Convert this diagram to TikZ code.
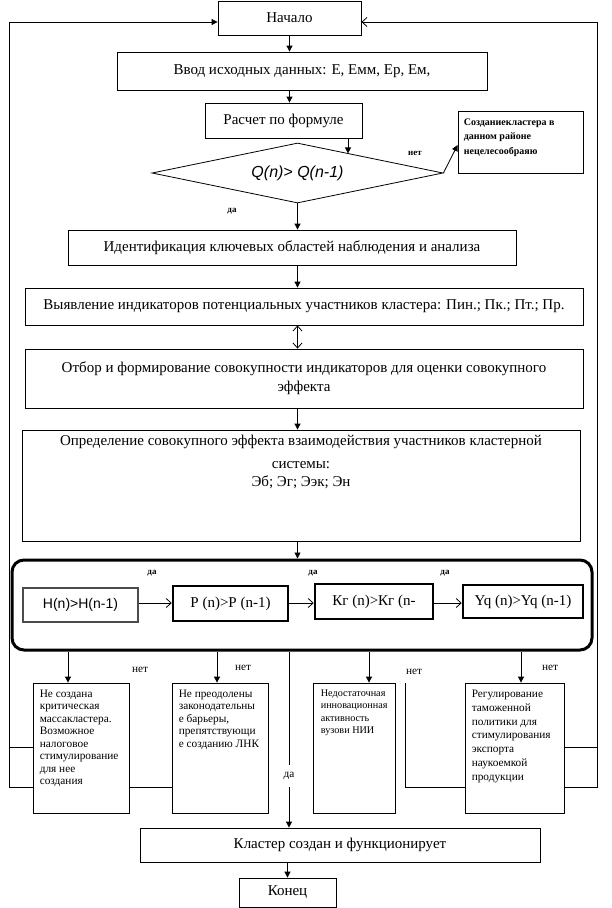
\documentclass[tikz,border=0pt]{standalone}
\usepackage{fontspec}
\setmainfont{Liberation Serif}
\setsansfont{Liberation Sans}
\usetikzlibrary{shapes.geometric,arrows.meta}

\newcommand{\txtmain}{\fontsize{15}{18}\selectfont}
\newcommand{\txtsmall}{\fontsize{11.3}{12.5}\selectfont}
\newcommand{\txttiny}{\fontsize{9}{12.5}\selectfont\bfseries}

\tikzset{
  blk/.style={draw, line width=0.8pt, inner sep=0pt, font=\txtmain},
  cond/.style={draw, line width=2.5pt, inner sep=0pt, font=\txtmain},
  note/.style={anchor=north west, inner sep=0pt, align=left, font=\txtsmall},
  lbl/.style={inner sep=0pt, font=\txttiny},
  nolbl/.style={inner sep=0pt, font=\txtsmall},
  flow/.style={line width=0.8pt, -{Triangle[length=6pt,width=6pt]}},
  barb/.style={line width=0.8pt, -{Straight Barb[length=5pt,width=9pt]}},
  link/.style={line width=0.8pt},
}

\begin{document}
\begin{tikzpicture}[x=1pt,y=-1pt]
\useasboundingbox (0,0) rectangle (612,908);

% top part
\node[blk, minimum width=143pt, minimum height=34pt] (start) at (289.5,18) {Начало};
\node[blk, minimum width=370pt, minimum height=38pt] (input) at (302,71) {Ввод  исходных данных: Е, Емм, Ер, Ем,};
\node[blk, minimum width=157pt, minimum height=35pt] (calc) at (283.5,120.5) {Расчет  по формуле};
\node[draw, diamond, aspect=4.85, line width=0.8pt, minimum width=291pt, minimum height=60pt, inner sep=0pt,
      font=\sffamily\itshape\fontsize{16}{18}\selectfont] (test) at (297.5,173) {Q(n)> Q(n-1)};
\node[blk, minimum width=125pt, minimum height=62pt] (nocl) at (520.5,142) {};
\node[note, font=\fontsize{10}{14.5}\selectfont\bfseries] at ([shift={(6,8)}]nocl.north west) {Созданиекластера в\\данном  районе\\нецелесообраяю};
\coordinate (tin) at (348,153.4);

\draw[flow] (start.south) -- (start.south |- input.north);
\draw[flow] (start.south |- input.south) -- (start.south |- calc.north);
\draw[flow] (calc.south -| tin) -- (tin);
\draw[flow] (test.east) -- ([yshift=-3pt]nocl.west);
\node[lbl] (no0) at (415,153) {нет};
\node[lbl] (yes0) at (232,211) {да};

% middle blocks
\node[blk, minimum width=448pt, minimum height=35pt] (ident) at (292,247.5) {Идентификация ключевых областей наблюдения и анализа};
\node[blk, minimum width=558pt, minimum height=37pt] (reveal) at (304,306.5) {Выявление индикаторов потенциальных  участников кластера: Пин.; Пк.; Пт.; Пр.};
\node[blk, minimum width=558pt, minimum height=59pt, align=center] (select) at (304,378.5) {Отбор и формирование совокупности индикаторов для оценки совокупного\\[1pt]эффекта};
\node[blk, minimum width=558pt, minimum height=111pt] (effect) at (301,485.5) {};
\node[font=\txtmain, align=center, anchor=north, inner sep=0pt] at ([yshift=-5pt]effect.north) {Определение совокупного эффекта  взаимодействия участников кластерной\\[5pt]системы:\\Эб; Эг; Ээк; Эн};

\draw[flow] (test.south) -- (test.south |- ident.north);
\draw[flow] (test.south |- ident.south) -- (test.south |- reveal.north);
\draw[line width=0.8pt, {Straight Barb[length=5pt,width=9pt]}-{Straight Barb[length=5pt,width=9pt]}]
  (test.south |- reveal.south) -- (test.south |- select.north);
\draw[flow] (test.south |- select.south) -- (test.south |- effect.north);

% chain of conditions
\node[draw, line width=3pt, rounded corners=12pt, minimum width=580pt, minimum height=90pt] (chain) at (302,605) {};
\node[cond, draw=black!70, font=\sffamily\fontsize{14}{16}\selectfont, minimum width=115pt, minimum height=34pt] (hc) at (80.5,605) {H(n)>H(n-1)};
\node[cond, minimum width=115pt, minimum height=35pt] (pc) at (230.5,603.5) {P (n)>P (n-1)};
\node[cond, minimum width=118pt, minimum height=35pt] (kc) at (374,601.5) {Кг  (n)>Кг (n-};
\node[cond, minimum width=120pt, minimum height=33pt] (yc) at (523,601.5) {Yq (n)>Yq (n-1)};
\draw[flow] (test.south |- effect.south) -- (test.south |- chain.north);
\draw[barb] (hc.east |- 0,603) -- (pc.west |- 0,603);
\draw[barb] (pc.east |- 0,603) -- (kc.west |- 0,603);
\draw[barb] (kc.east |- 0,603) -- (yc.west |- 0,603);
\node[lbl] (yes1) at (152,573) {да};
\node[lbl] (yes2) at (313,573) {да};
\node[lbl] (yes3) at (445,573) {да};

% outcomes
\node[draw, line width=0.8pt, minimum width=96pt, minimum height=130pt] (crit) at (81,748) {};
\node[draw, line width=0.8pt, minimum width=96pt, minimum height=130pt] (bar) at (220,748) {};
\node[draw, line width=0.8pt, minimum width=82pt, minimum height=130pt] (lack) at (354,748) {};
\node[draw, line width=0.8pt, minimum width=99pt, minimum height=130pt] (reg) at (514.5,748) {};
\node[note] at ([shift={(7,7)}]crit.north west) {Не создана\\критическая\\массакластера.\\Возможное\\налоговое\\стимулирование\\для нее\\создания};
\node[note] at ([shift={(7,7)}]bar.north west) {Не преодолены\\законодательны\\е барьеры,\\препятствующи\\е созданию ЛНК};
\node[note, font=\fontsize{10.2}{12.5}\selectfont] at ([shift={(8,7)}]lack.north west) {Недостаточная\\инновационная\\активность\\вузови НИИ};
\node[note, font=\fontsize{11.3}{13.9}\selectfont] at ([shift={(7,7)}]reg.north west) {Регулирование\\таможенной\\политики для\\стимулирования\\экспорта\\наукоемкой\\продукции};

\draw[flow] ([xshift=-13pt]crit.north |- chain.south) -- ([xshift=-13pt]crit.north);
\draw[flow] ([xshift=-3pt]bar.north |- chain.south) -- ([xshift=-3pt]bar.north);
\draw[flow] ([xshift=15pt]lack.north |- chain.south) -- ([xshift=15pt]lack.north);
\draw[flow] ([xshift=6.5pt]reg.north |- chain.south) -- ([xshift=6.5pt]reg.north);
\node[nolbl] (no1) at (140,670) {нет};
\node[nolbl] (no2) at (243,668) {нет};
\node[nolbl] (no3) at (414,672) {нет};
\node[nolbl] (no4) at (550,668) {нет};

% end
\node[blk, minimum width=400pt, minimum height=34pt] (done) at (340,845) {Кластер создан и функционирует};
\node[blk, minimum width=97pt, minimum height=29pt] (finish) at (287.5,892.5) {Конец};
\node[nolbl, minimum height=22pt] (yes4) at (289,776) {да};
\draw[link] (yes4.north |- chain.south) -- (yes4.north);
\draw[flow] (yes4.south) -- (yes4.south |- done.north);
\draw[flow] (done.south -| finish.north) -- (finish.north);

% return lines
\coordinate (lowA) at (0,787);
\coordinate (lowB) at (0,747);
\coordinate (lleft) at (9,22);
\coordinate (rright) at (597,22);
\coordinate (side) at (405,683);
\draw[flow] (crit.west |- lowB) -- (lleft |- lowB) -- (lleft) -- (lleft -| start.west);
\draw[link] (crit.west |- lowA) -- (lleft |- lowA) -- (lleft |- lowB);
\draw[link] (crit.east |- lowA) -- (bar.west |- lowA);
\draw[link] (side) -- (side |- lowA) -- (reg.west |- lowA);
\draw[link] (reg.east |- lowB) -- (rright |- lowB);
\draw[barb] (reg.east |- lowA) -- (rright |- lowA) -- (rright) -- (rright -| start.east);
\end{tikzpicture}
\end{document}
